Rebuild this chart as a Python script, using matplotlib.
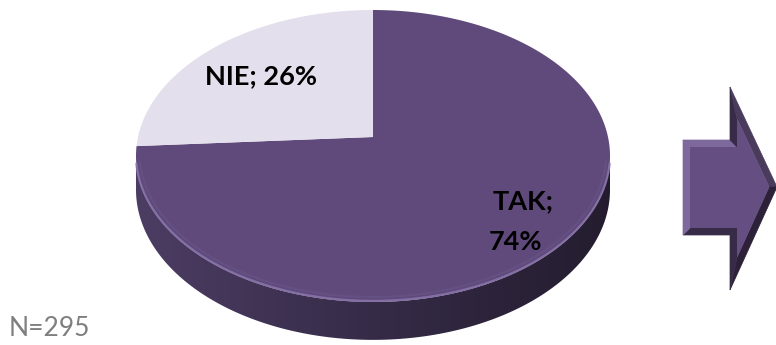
import numpy as np
import matplotlib
matplotlib.use("Agg")
import matplotlib.pyplot as plt
from matplotlib.patches import Polygon

# answers (Excel order: first slice starts at 12 o'clock, clockwise)
labels = ["TAK", "NIE"]
values = [74, 26]
colors = ["#5f4a7b", "#e4dfec"]
n_note = "N=295"

W, H = 776, 345
fig = plt.figure(figsize=(W / 100, H / 100), dpi=100)
ax = fig.add_axes([0, 0, 1, 1])
ax.set_xlim(0, W)
ax.set_ylim(H, 0)
ax.axis("off")

# perspective disk: centre, radii, perspective factor, wall height (px)
cx, cy, a, b, k, depth = 373, 137, 235, 143.5, 0.13, 33


def proj(theta, r=1.0, z=0.0):
    u = r * np.cos(theta)
    v = r * np.sin(theta)
    w = 1 + k * v
    return cx + a * u / w, cy - b * v / w + z / w


# silhouette extremes of the projected rim
tt = np.linspace(0, 2 * np.pi, 3601)
xs, _ = proj(tt)
t_right = tt[np.argmax(xs)]
t_left = tt[np.argmin(xs)]
if t_right < t_left:
    t_right += 2 * np.pi

# side wall: one polygon filled with a horizontal gradient
side_t = np.linspace(t_left, t_right, 400)
tx, ty = proj(side_t)
bx, by = proj(side_t[::-1], z=depth)
wall = Polygon(list(zip(tx, ty)) + list(zip(bx, by)), closed=True,
               facecolor="none", edgecolor="none")
ax.add_patch(wall)

gx = np.linspace(0, 1, 256)
c_left = np.array([0.30, 0.24, 0.39])
c_mid = np.array([0.21, 0.17, 0.28])
c_right = np.array([0.14, 0.11, 0.18])
grad = np.where(gx[:, None] < 0.5,
                c_left + (c_mid - c_left) * (gx[:, None] / 0.5),
                c_mid + (c_right - c_mid) * ((gx[:, None] - 0.5) / 0.5))
img = ax.imshow(grad[None, :, :], extent=(cx - a - 5, cx + a + 5, 345, 130),
                aspect="auto", interpolation="bilinear", zorder=1)
img.set_clip_path(wall)

# top faces of the slices
start = np.pi / 2
total = sum(values)
for lab, val, col in zip(labels, values, colors):
    span = 2 * np.pi * val / total
    arc = np.linspace(start, start - span, 400)
    px, py = proj(arc)
    pts = [(cx, cy)] + list(zip(px, py))
    ax.add_patch(Polygon(pts, closed=True, facecolor=col, edgecolor="none",
                         zorder=2))
    start -= span

# light rim along the front edge of the top face
rim = np.linspace(np.pi * 1.06, np.pi * 1.94, 300)
rx, ry = proj(rim)
ax.plot(rx, ry - 1, color="#8a76ac", lw=1.6, alpha=0.85,
        solid_capstyle="round", zorder=3)
rx2, ry2 = proj(rim, r=0.985)
ax.plot(rx2, ry2 - 2, color="#6e5991", lw=1.5, alpha=0.45, zorder=3)

# data labels
lab_kw = dict(fontsize=19.5, fontweight="bold", family="Lato",
              ha="center", va="center", color="black", zorder=4)
ax.text(261, 76, f"{labels[1]}; {values[1]}%", **lab_kw)
ax.text(523, 201, f"{labels[0]};", **lab_kw)
ax.text(516, 242, f"{values[0]}%", **lab_kw)

ax.text(9, 329, n_note, fontsize=19, family="Lato", color="#7f7f7f",
        ha="left", va="center")

# bevelled block arrow
arrow = np.array([(683, 140), (730, 140), (730, 87), (777, 187),
                  (730, 290), (730, 235), (683, 235)], dtype=float)


def inset(poly, d):
    n = len(poly)
    out = []
    for i in range(n):
        p0, p1, p2 = poly[i - 1], poly[i], poly[(i + 1) % n]
        e1 = (p1 - p0) / np.linalg.norm(p1 - p0)
        e2 = (p2 - p1) / np.linalg.norm(p2 - p1)
        n1 = np.array([-e1[1], e1[0]])
        n2 = np.array([-e2[1], e2[0]])
        m = n1 + n2
        out.append(p1 + d * m / (1 + n1 @ n2))
    return np.array(out)


inner = inset(arrow, 7)
if not Polygon(inner).get_path().contains_point(tuple(arrow.mean(0))):
    inner = inset(arrow, -7)

light = np.array([-1.0, -1.0]) / np.sqrt(2)
dark_c = np.array([0.16, 0.12, 0.21])
light_c = np.array([0.55, 0.46, 0.68])
for i in range(len(arrow)):
    j = (i + 1) % len(arrow)
    e = arrow[j] - arrow[i]
    nrm = np.array([e[1], -e[0]]) / np.linalg.norm(e)
    if np.dot(nrm, arrow.mean(0) - arrow[i]) > 0:
        nrm = -nrm
    s = (np.dot(nrm, light) + 1) / 2
    c = dark_c * (1 - s) + light_c * s
    ax.add_patch(Polygon([arrow[i], arrow[j], inner[j], inner[i]], closed=True,
                         facecolor=c, edgecolor=c, lw=0.5))
ax.add_patch(Polygon(inner, closed=True, facecolor="#644e82", edgecolor="none"))

fig.savefig("out.png", dpi=100)
